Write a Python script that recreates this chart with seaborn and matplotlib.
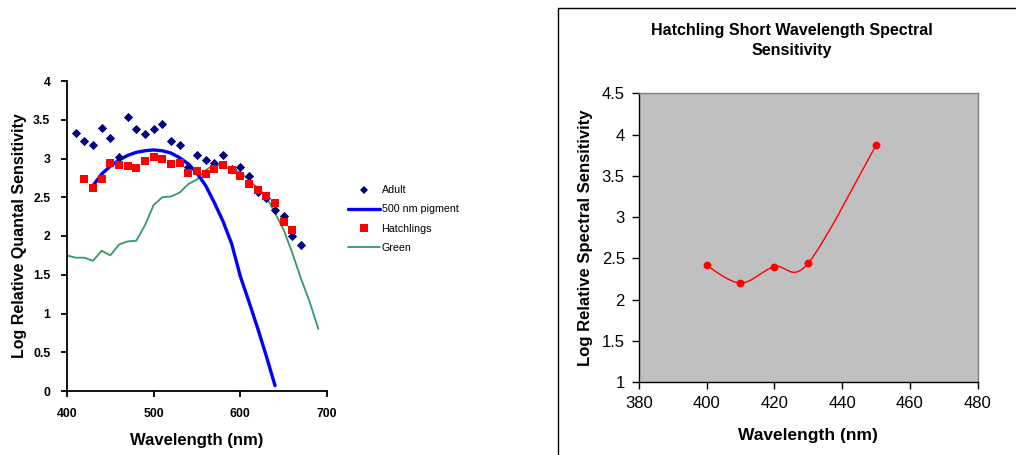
import numpy as np
import pandas as pd
import matplotlib
matplotlib.use("Agg")
import matplotlib.pyplot as plt
import matplotlib.ticker as mticker
from matplotlib.path import Path
from matplotlib.patches import PathPatch
from matplotlib.lines import Line2D
import seaborn as sns

# ---- data: left chart ----
adult_wl = [410, 420, 430, 440, 450, 460, 470, 480, 490, 500, 510, 520, 530, 540,
            550, 560, 570, 580, 590, 600, 610, 620, 630, 640, 650, 660, 670]
adult_val = [3.33, 3.23, 3.17, 3.39, 3.26, 3.02, 3.53, 3.38, 3.32, 3.38, 3.45, 3.22, 3.17, 2.89,
             3.04, 2.98, 2.94, 3.05, 2.87, 2.89, 2.78, 2.57, 2.49, 2.33, 2.26, 2.00, 1.88]

pigment_wl = [430, 440, 450, 460, 470, 480, 490, 500, 510, 520, 530,
              540, 550, 560, 570, 580, 590, 600, 610, 620, 630, 640]
pigment_val = [2.65, 2.80, 2.90, 2.98, 3.04, 3.08, 3.10, 3.11, 3.10, 3.07, 3.01,
               2.93, 2.81, 2.65, 2.43, 2.19, 1.90, 1.48, 1.15, 0.81, 0.45, 0.07]

hatch_wl = [420, 430, 440, 450, 460, 470, 480, 490, 500, 510, 520, 530, 540,
            550, 560, 570, 580, 590, 600, 610, 620, 630, 640, 650, 660]
hatch_val = [2.73, 2.62, 2.73, 2.94, 2.92, 2.90, 2.88, 2.97, 3.02, 2.99, 2.93, 2.94, 2.81,
             2.84, 2.80, 2.86, 2.91, 2.85, 2.78, 2.67, 2.60, 2.52, 2.42, 2.18, 2.08]

green_wl = [400, 410, 420, 430, 440, 450, 460, 470, 480, 490, 500, 510, 520, 530, 540,
            550, 560, 570, 580, 590, 600, 610, 620, 630, 640, 650, 660, 670, 680, 690]
green_val = [1.75, 1.72, 1.72, 1.68, 1.81, 1.75, 1.89, 1.93, 1.94, 2.14, 2.40, 2.50, 2.51, 2.56, 2.67,
             2.73, 2.85, 2.92, 2.90, 2.86, 2.82, 2.72, 2.62, 2.50, 2.30, 2.08, 1.78, 1.45, 1.15, 0.80]

# ---- data: right chart ----
short_wl = [400, 410, 420, 430, 450]
short_val = [2.415, 2.20, 2.40, 2.44, 3.87]

sns.set_style("ticks")
plt.rcParams["font.family"] = ["Liberation Sans", "DejaVu Sans"]
plt.rcParams.update({"axes.linewidth": 1.3, "text.color": "black",
                     "axes.labelcolor": "black", "axes.edgecolor": "black"})

W, H = 1016, 455
fig = plt.figure(figsize=(W / 100, H / 100), dpi=100)

def box(x0, y_top, x1, y_bot):
    return [x0 / W, 1 - y_bot / H, (x1 - x0) / W, (y_bot - y_top) / H]

# ─── LEFT: quantal sensitivity ───────────────────────────────────────────────
ax1 = fig.add_axes(box(67, 81, 327, 391))
sns.lineplot(x=green_wl, y=green_val, ax=ax1, color="#339966", linewidth=1.3, zorder=2)
sns.lineplot(x=pigment_wl, y=pigment_val, ax=ax1, color="#0000FF", linewidth=2.4, zorder=3)
sns.scatterplot(x=adult_wl, y=adult_val, ax=ax1, marker="D", s=22, color="#000080",
                linewidth=0, zorder=4)
sns.scatterplot(x=hatch_wl, y=hatch_val, ax=ax1, marker="s", s=30, color="#FF0000",
                linewidth=0, zorder=5)

ax1.set_xlim(400, 700)
ax1.set_ylim(0, 4)
ax1.xaxis.set_major_locator(mticker.MultipleLocator(100))
ax1.yaxis.set_major_locator(mticker.MultipleLocator(0.5))
ax1.yaxis.set_major_formatter(mticker.FormatStrFormatter("%g"))
ax1.tick_params(direction="out", length=4, width=1.3, labelsize=8.8, colors="black")
ax1.tick_params(axis="x", pad=8)
ax1.tick_params(axis="y", pad=8)
for lab in ax1.get_xticklabels() + ax1.get_yticklabels():
    lab.set_fontweight("bold")
sns.despine(ax=ax1)
ax1.set_xlabel("Wavelength (nm)", fontsize=12, fontweight="bold")
ax1.set_ylabel("Log Relative Quantal Sensitivity", fontsize=11.5, fontweight="bold")
ax1.xaxis.set_label_coords(0.5, -0.135)
ax1.yaxis.set_label_coords(-0.155, 0.5)

handles = [
    Line2D([], [], ls="none", marker="D", ms=4.5, color="#000080", mew=0),
    Line2D([], [], color="#0000FF", lw=2.4),
    Line2D([], [], ls="none", marker="s", ms=5.5, color="#FF0000", mew=0),
    Line2D([], [], color="#339966", lw=1.3),
]
labels = ["Adult", "500 nm pigment", "Hatchlings", "Green"]
fig.legend(handles, labels, loc="upper left", bbox_to_anchor=(343 / W, 1 - 180 / H),
           frameon=False, fontsize=7.7, handlelength=3.0, handletextpad=0.1,
           labelspacing=0.85, borderpad=0)

# ─── RIGHT: short wavelength ─────────────────────────────────────────────────
ax2 = fig.add_axes(box(638.7, 93.3, 977.7, 382))
ax2.set_facecolor("#C0C0C0")

# Excel-style smoothed line: cubic Bezier segments through the data points
pts = np.column_stack([short_wl, short_val]).astype(float)
verts, codes = [pts[0]], [Path.MOVETO]
for i in range(len(pts) - 1):
    p0 = pts[i - 1] if i > 0 else pts[i]
    p3 = pts[i + 2] if i + 2 < len(pts) else pts[i + 1]
    c1 = pts[i] + (pts[i + 1] - p0) / 6
    c2 = pts[i + 1] - (p3 - pts[i]) / 6
    verts += [c1, c2, pts[i + 1]]
    codes += [Path.CURVE4] * 3
ax2.add_patch(PathPatch(Path(verts, codes), fill=False, edgecolor="#FF0000", lw=1.0, zorder=3))
sns.scatterplot(x=short_wl, y=short_val, ax=ax2, marker="o", s=32, color="#FF0000",
                linewidth=0, zorder=4)

ax2.set_xlim(380, 480)
ax2.set_ylim(1, 4.5)
ax2.xaxis.set_major_locator(mticker.MultipleLocator(20))
ax2.yaxis.set_major_locator(mticker.MultipleLocator(0.5))
ax2.yaxis.set_major_formatter(mticker.FormatStrFormatter("%g"))
ax2.tick_params(direction="out", length=5, width=1.0, labelsize=12, pad=5, colors="black")
for side in ["top", "right"]:
    ax2.spines[side].set_color("#808080")
    ax2.spines[side].set_linewidth(1.0)
for side in ["left", "bottom"]:
    ax2.spines[side].set_color("black")
    ax2.spines[side].set_linewidth(1.0)
ax2.set_xlabel("Wavelength (nm)", fontsize=12.5, fontweight="bold")
ax2.set_ylabel("Log Relative Spectral Sensitivity", fontsize=12, fontweight="bold")
ax2.xaxis.set_label_coords(0.5, -0.16)
ax2.yaxis.set_label_coords(-0.135, 0.5)
fig.text(792 / W, 1 - 40.5 / H, "Hatchling Short Wavelength Spectral\nSensitivity",
         ha="center", va="center", fontsize=11.5, fontweight="bold", linespacing=1.5)

# chart-area border around the right chart
fig.add_artist(Line2D([557.5 / W, 557.5 / W], [0, 1 - 7.5 / H], color="black", lw=1.0))
fig.add_artist(Line2D([557.5 / W, 1], [1 - 7.5 / H, 1 - 7.5 / H], color="black", lw=1.0))

fig.savefig("out.png", dpi=100)
